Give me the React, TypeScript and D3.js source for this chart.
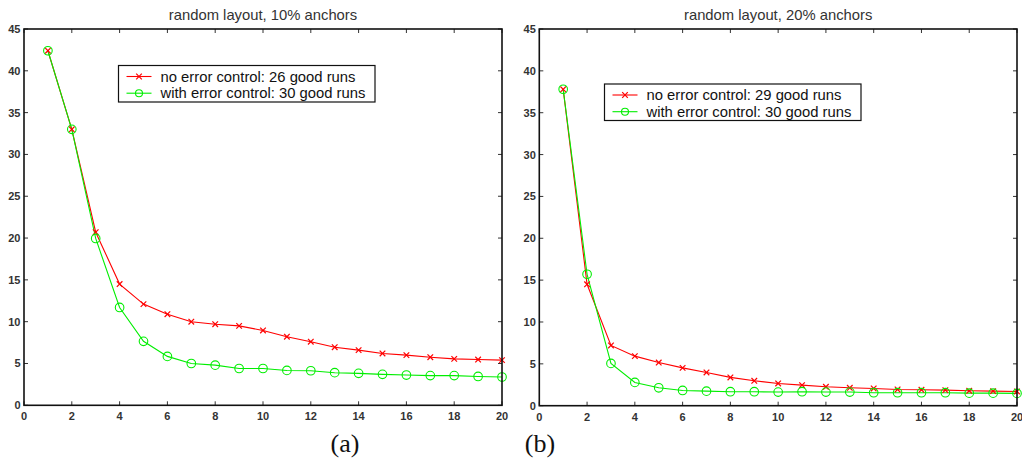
import React from "react";
import * as d3 from "d3";

const xValues = [1, 2, 3, 4, 5, 6, 7, 8, 9, 10, 11, 12, 13, 14, 15, 16, 17, 18, 19, 20];
const xTicks = [0, 2, 4, 6, 8, 10, 12, 14, 16, 18, 20];
const yTicks = [0, 5, 10, 15, 20, 25, 30, 35, 40, 45];

const aTitle = "random layout, 10% anchors";
const aNoControl = [42.4, 33.0, 20.7, 14.5, 12.1, 10.9, 10.0, 9.7, 9.5, 8.95, 8.2, 7.6, 6.95, 6.6, 6.2, 6.0, 5.75, 5.55, 5.47, 5.4];
const aWithControl = [42.4, 33.0, 19.95, 11.7, 7.65, 5.85, 5.0, 4.8, 4.4, 4.4, 4.17, 4.13, 3.9, 3.82, 3.7, 3.62, 3.55, 3.55, 3.45, 3.38];
const aLegend = ["no error control: 26 good runs", "with error control: 30 good runs"];

const bTitle = "random layout, 20% anchors";
const bNoControl = [37.8, 14.5, 7.2, 5.92, 5.16, 4.52, 3.97, 3.38, 2.98, 2.66, 2.46, 2.26, 2.14, 2.06, 1.94, 1.9, 1.86, 1.78, 1.74, 1.7];
const bWithControl = [37.8, 15.7, 5.05, 2.78, 2.14, 1.82, 1.74, 1.67, 1.67, 1.63, 1.67, 1.63, 1.63, 1.55, 1.55, 1.55, 1.55, 1.5, 1.5, 1.47];
const bLegend = ["no error control: 29 good runs", "with error control: 30 good runs"];

const RED = "#ff0000";
const GREEN = "#00ee00";
const SANS = "'Liberation Sans', Arial, Helvetica, sans-serif";

type PanelProps = {
  left: number; right: number; top: number; bottom: number;
  title: string; red: number[]; green: number[]; legend: string[];
  legX: number; legY: number; legW: number; label: string; labelX: number;
};

function XMark({ x, y }: { x: number; y: number }) {
  const s = 2.8;
  return (
    <g stroke={RED} strokeWidth={1.2}>
      <line x1={x - s} y1={y - s} x2={x + s} y2={y + s} />
      <line x1={x - s} y1={y + s} x2={x + s} y2={y - s} />
    </g>
  );
}

function Panel(p: PanelProps) {
  const x = d3.scaleLinear().domain([0, 20]).range([p.left, p.right]);
  const y = d3.scaleLinear().domain([0, 45]).range([p.bottom, p.top]);
  const line = d3.line<number>().x((_, i) => x(xValues[i])).y((d) => y(d));
  const tl = 4;
  const rowH = 16.7;
  return (
    <g>
      <text x={(p.left + p.right) / 2} y={p.top - 9} textAnchor="middle" fontFamily={SANS} fontSize={14.8} fill="#333">{p.title}</text>
      <rect x={p.left} y={p.top} width={p.right - p.left} height={p.bottom - p.top} fill="white" stroke="none" />
      {xTicks.map((t) => (
        <g key={"x" + t}>
          <line x1={x(t)} x2={x(t)} y1={p.bottom} y2={p.bottom - tl} stroke="#333" strokeWidth={1} />
          <line x1={x(t)} x2={x(t)} y1={p.top} y2={p.top + tl} stroke="#333" strokeWidth={1} />
          <text x={x(t)} y={p.bottom + 15} textAnchor="middle" fontFamily={SANS} fontSize={11} fontWeight="bold" fill="#333">{t}</text>
        </g>
      ))}
      {yTicks.map((t) => (
        <g key={"y" + t}>
          <line x1={p.left} x2={p.left + tl} y1={y(t)} y2={y(t)} stroke="#333" strokeWidth={1} />
          <line x1={p.right} x2={p.right - tl} y1={y(t)} y2={y(t)} stroke="#333" strokeWidth={1} />
          <text x={p.left - 3.5} y={y(t) + 4} textAnchor="end" fontFamily={SANS} fontSize={11} fontWeight="bold" fill="#333">{t}</text>
        </g>
      ))}
      <path d={line(p.red) || ""} fill="none" stroke={RED} strokeWidth={1.1} />
      <path d={line(p.green) || ""} fill="none" stroke={GREEN} strokeWidth={1.1} />
      {p.red.map((v, i) => <XMark key={"r" + i} x={x(xValues[i])} y={y(v)} />)}
      {p.green.map((v, i) => (
        <circle key={"g" + i} cx={x(xValues[i])} cy={y(v)} r={4.3} fill="none" stroke={GREEN} strokeWidth={1.1} />
      ))}
      <rect x={p.left} y={p.top} width={p.right - p.left} height={p.bottom - p.top} fill="none" stroke="#111" strokeWidth={1.6} />
      <g>
        <rect x={p.legX} y={p.legY} width={p.legW} height={36.5} fill="white" stroke="#111" strokeWidth={1.2} />
        <line x1={p.legX + 8} x2={p.legX + 33} y1={p.legY + 11} y2={p.legY + 11} stroke={RED} strokeWidth={1.1} />
        <XMark x={p.legX + 20.5} y={p.legY + 11} />
        <text x={p.legX + 42} y={p.legY + 16} fontFamily={SANS} fontSize={14.8} fill="#111">{p.legend[0]}</text>
        <line x1={p.legX + 8} x2={p.legX + 33} y1={p.legY + 11 + rowH} y2={p.legY + 11 + rowH} stroke={GREEN} strokeWidth={1.1} />
        <circle cx={p.legX + 20.5} cy={p.legY + 11 + rowH} r={3.5} fill="none" stroke={GREEN} strokeWidth={1.1} />
        <text x={p.legX + 42} y={p.legY + 16 + rowH} fontFamily={SANS} fontSize={14.8} fill="#111">{p.legend[1]}</text>
      </g>
      <text x={p.labelX} y={452} textAnchor="middle" fontFamily="'Liberation Serif', 'DejaVu Serif', serif" fontSize={26} fill="#111">{p.label}</text>
    </g>
  );
}

export default function App() {
  return (
    <div style={{ position: "fixed", left: 0, top: 0 }}>
      <svg width={1022} height={463} style={{ display: "block", background: "white" }}>
        <Panel left={24} right={502} top={29} bottom={405.3} title={aTitle} red={aNoControl} green={aWithControl}
          legend={aLegend} legX={118.5} legY={65.5} legW={256.5} label="(a)" labelX={345} />
        <Panel left={539.3} right={1017} top={29} bottom={405.7} title={bTitle} red={bNoControl} green={bWithControl}
          legend={bLegend} legX={604.5} legY={84} legW={256.5} label="(b)" labelX={540} />
      </svg>
    </div>
  );
}
